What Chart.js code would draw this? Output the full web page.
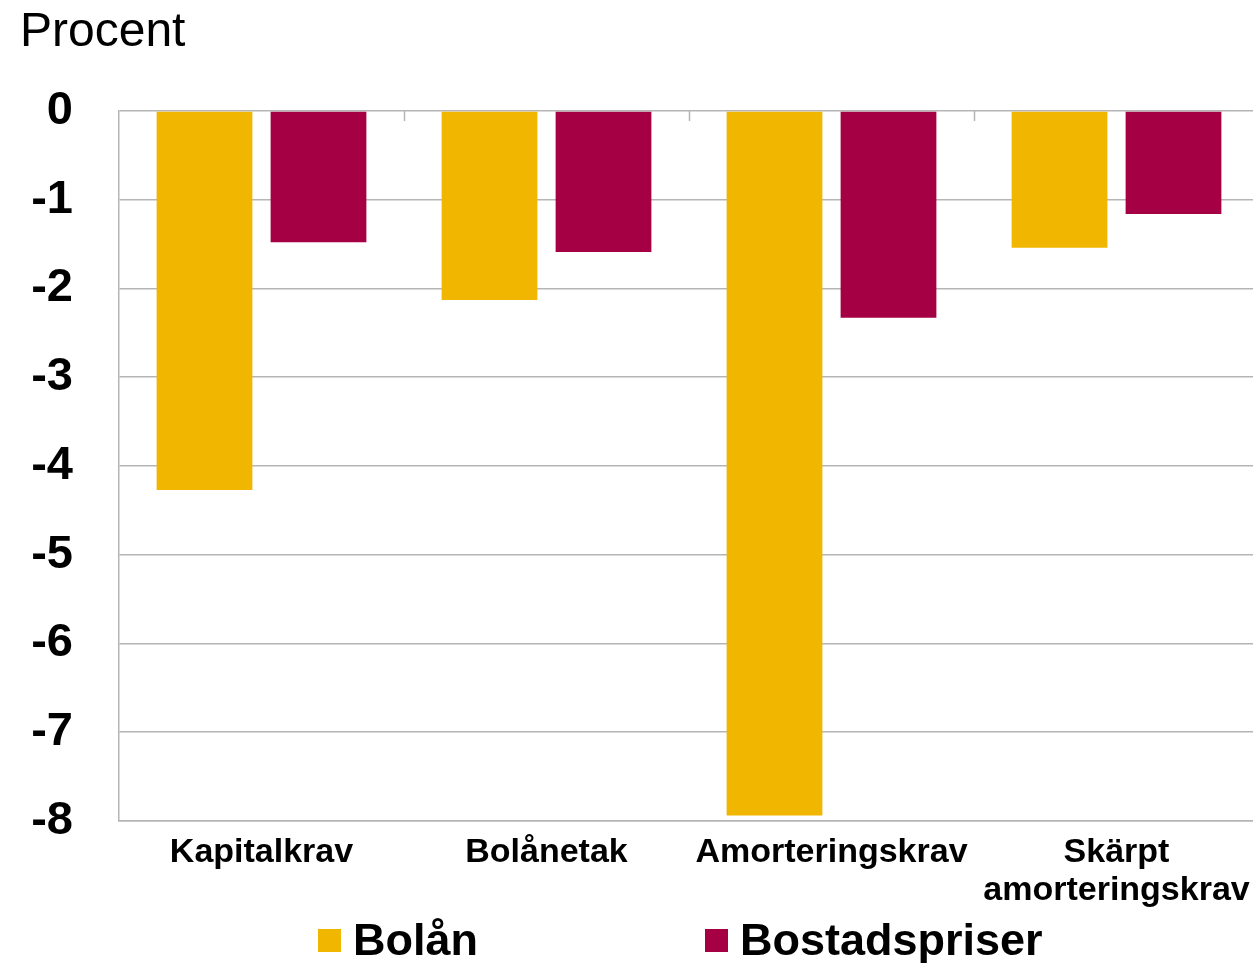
<!DOCTYPE html>
<html>
<head>
<meta charset="utf-8">
<script src="https://cdn.jsdelivr.net/npm/chart.js@4/dist/chart.umd.min.js"></script>
<style>
  html, body { margin: 0; padding: 0; background: #fff; overflow: hidden; }
  #wrap { position: relative; width: 1253px; height: 963px; overflow: hidden; }
  #legend { position: absolute; left: 0; top: 916px; width: 1253px; height: 47px;
            font-family: "Liberation Sans", Arial, sans-serif; font-weight: bold; font-size: 45px; color: #000; }
  .item { position: absolute; top: 0; height: 47px; line-height: 47px; white-space: nowrap; }
  .box { position: absolute; top: 13px; width: 23px; height: 23px; }
  .txt { position: absolute; top: 0; }
</style>
</head>
<body>
<div id="wrap">
  <canvas id="chart" width="1259" height="963"></canvas>
  <div id="legend"></div>
</div>
<script>
const gold = '#F0B600';
const maroon = '#A50044';
const gridGrey = '#b5b5b5';
const fontFam = '"Liberation Sans", Arial, sans-serif';

// Data
const categories = ['Kapitalkrav', 'Bolånetak', 'Amorteringskrav', ['Skärpt', 'amorteringskrav']];
const seriesNames = ['Bolån', 'Bostadspriser'];
const bolan = [-4.27, -2.13, -7.94, -1.54];
const bostadspriser = [-1.48, -1.59, -2.33, -1.16];
const yTicks = [0, -1, -2, -3, -4, -5, -6, -7, -8];

// small tick marks on the zero line between categories
const boundaryTicks = {
    id: 'boundaryTicks',
    afterDatasetsDraw(chart) {
        const x = chart.scales.x, y = chart.scales.y;
        const ctx = chart.ctx;
        const y0 = y.getPixelForValue(0);
        ctx.save();
        ctx.strokeStyle = gridGrey;
        ctx.lineWidth = 1.5;
        for (let i = 1; i < categories.length; i++) {
            const px = Math.round(x.getPixelForValue(i - 0.5)) + 0.5;
            ctx.beginPath();
            ctx.moveTo(px, y0);
            ctx.lineTo(px, y0 + 10);
            ctx.stroke();
        }
        ctx.restore();
    }
};

const chart = new Chart(document.getElementById('chart').getContext('2d'), {
    type: 'bar',
    data: {
        labels: categories,
        datasets: [
            { label: seriesNames[0], data: bolan, backgroundColor: gold, borderWidth: 0 },
            { label: seriesNames[1], data: bostadspriser, backgroundColor: maroon, borderWidth: 0 }
        ]
    },
    options: {
        responsive: false,
        animation: false,
        categoryPercentage: 0.8,
        barPercentage: 0.84,
        layout: { padding: { left: 20, right: 0, top: 0, bottom: 48 } },
        plugins: {
            legend: { display: false },
            tooltip: { enabled: false },
            title: {
                display: true,
                text: 'Procent',
                align: 'start',
                color: '#000',
                font: { family: fontFam, size: 48, weight: 'normal', lineHeight: 1.2 },
                padding: { top: 4, bottom: 49.4 }
            }
        },
        scales: {
            x: {
                grid: { display: false },
                border: { display: true, color: gridGrey, width: 1.5 },
                ticks: {
                    color: '#000',
                    padding: 5,
                    maxRotation: 0,
                    autoSkip: false,
                    font: { family: fontFam, size: 34, weight: 'bold', lineHeight: 1.12 }
                }
            },
            y: {
                min: -8,
                max: 0,
                afterFit(scale) { scale.width = 99; },
                afterBuildTicks(scale) { scale.ticks = yTicks.map(v => ({ value: v })); },
                grid: { color: gridGrey, lineWidth: 1.5, drawTicks: false },
                border: { display: true, color: gridGrey, width: 1.5 },
                ticks: {
                    color: '#000',
                    padding: 46,
                    font: { family: fontFam, size: 47, weight: 'bold' }
                }
            }
        }
    },
    plugins: [boundaryTicks]
});

// HTML legend spaced like the reference
const legendPos = [{ box: 318, txt: 353 }, { box: 705, txt: 740 }];
const legendEl = document.getElementById('legend');
chart.data.datasets.forEach((ds, i) => {
    const item = document.createElement('div');
    item.className = 'item';
    item.style.left = '0px';
    item.innerHTML = `<span class="box" style="left:${legendPos[i].box}px;background:${ds.backgroundColor}"></span>` +
                     `<span class="txt" style="left:${legendPos[i].txt}px">${ds.label}</span>`;
    legendEl.appendChild(item);
});
</script>
</body>
</html>
